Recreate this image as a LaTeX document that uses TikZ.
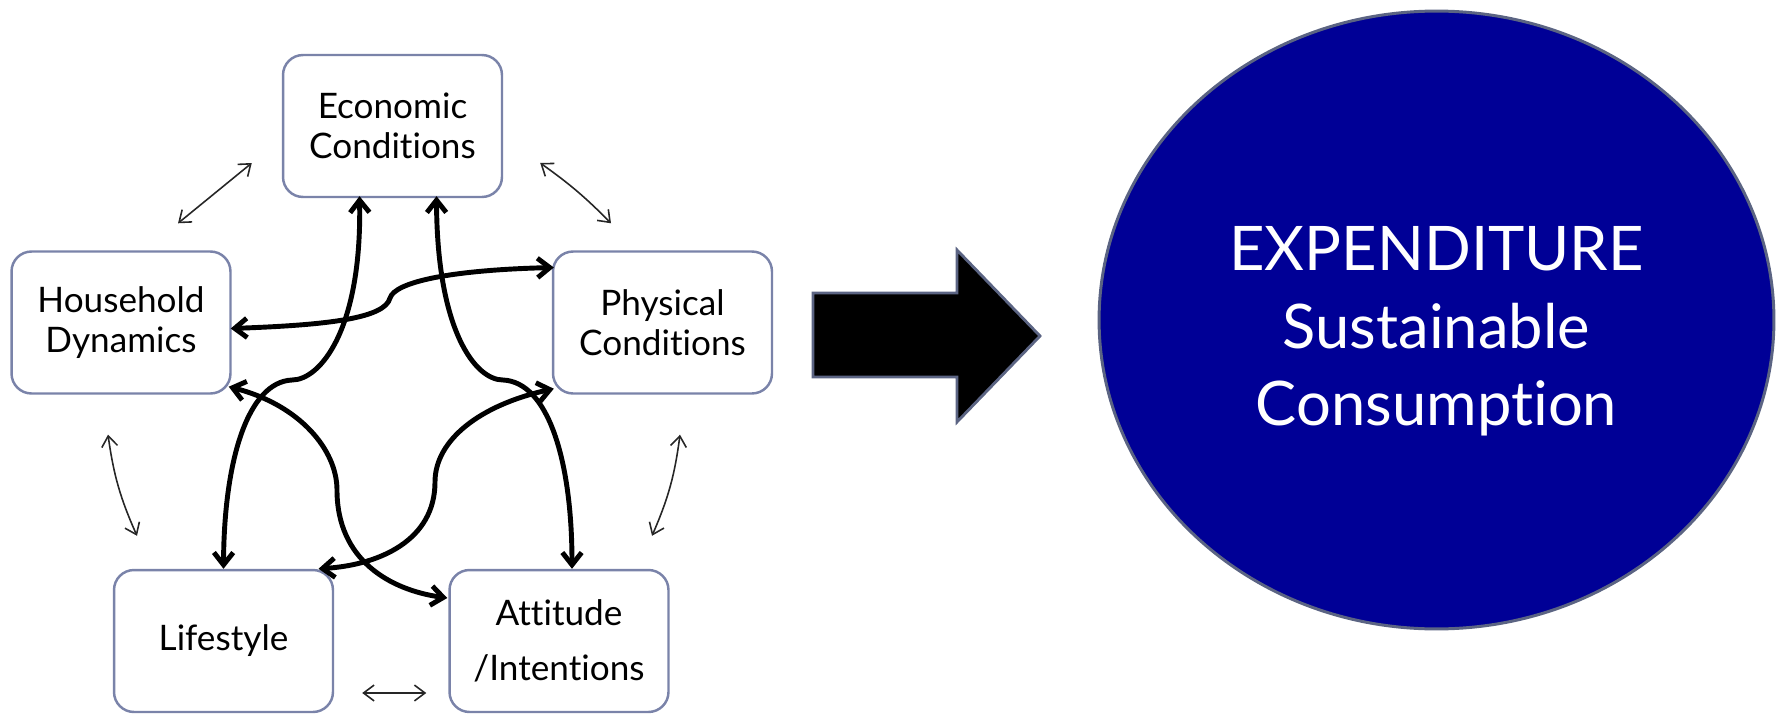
\documentclass[tikz,border=0pt]{standalone}
\usepackage{fontspec}
\setmainfont{Lato}[Ligatures={NoCommon,NoRare,NoContextual}]
\usetikzlibrary{arrows.meta,shapes.geometric,calc}
\definecolor{boxline}{HTML}{7A83A9}
\definecolor{deepblue}{HTML}{000096}
\definecolor{rimgray}{HTML}{5B6483}
\begin{document}
\begin{tikzpicture}[x=0.02cm, y=-0.02cm,
	factor/.style={draw=boxline, line width=1.4pt, rounded corners=0.4cm, minimum width=4.38cm, minimum height=2.84cm, align=center, inner sep=0pt, font=\fontsize{20}{23}\selectfont},
	link/.style={{Straight Barb[length=6pt,width=9pt]}-{Straight Barb[length=6pt,width=9pt]}, line width=0.9pt, black!85},
	tie/.style={{Straight Barb[length=7pt,width=11pt]}-{Straight Barb[length=7pt,width=11pt]}, line width=2.8pt, line join=round}]
	\useasboundingbox (0,0) rectangle (1777,713);
	% the five factors
	\node [factor] (econ) at (392.5,126) {Economic\\Conditions};
	\node [factor] (house) at (121,322.5) {Household\\Dynamics};
	\node [factor] (phys) at (662.5,322.5) {Physical\\Conditions};
	\node [factor] (life) at (223.5,641) {Lifestyle};
	\node [factor] (att) at (559,641) {Attitude\\[3mm]/Intentions};
	% thin links between neighbours
	\draw [link] ($(house.north)+(57,-27)$) -- ($(econ.west)+(-30,37)$);
	\draw [link] ($(econ.east)+(37,37)$) to [bend left=5] ($(phys.north)+(-51.5,-27)$);
	\draw [link] ($(house.south)+(-13,40)$) to [bend right=8] ($(life.north)+(-86.5,-33)$);
	\draw [link] ($(phys.south)+(17.5,40)$) to [bend left=8] ($(att.north)+(93,-33)$);
	\draw [link] ($(life.east)+(28,52)$) -- ($(att.west)+(-22,52)$);
	% thick links across the star
	\draw [tie] ($(econ.south)+(-33,-2)$) .. controls (362,330) and (320,380) .. (292,380) .. controls (248,382) and (224,460) .. (life.north);
	\draw [tie] ($(econ.south)+(44,-2)$) .. controls (437,330) and (475,380) .. (503,380) .. controls (548,382) and (572,460) .. ($(att.north)+(13,0)$);
	\draw [tie] ($(house.east)+(-1,6)$) .. controls (330,325) and (385,318) .. (390,298) .. controls (395,282) and (450,270) .. ($(phys.west)+(2,-55)$);
	\draw [tie] ($(house.south east)+(-3,-8)$) .. controls (300,405) and (337,450) .. (337,490) .. controls (337,560) and (390,590) .. ($(att.west)+(-1,-43)$);
	\draw [tie] ($(phys.south west)+(2,-6)$) .. controls (480,405) and (435,440) .. (435,482) .. controls (435,540) and (380,565) .. ($(life.north)+(95,0)$);
	% block arrow and outcome
	\draw [fill=black, draw=rimgray, line width=1.6pt] (813,293) -- (957,293) -- (957,250) -- (1040,336) -- (957,422) -- (957,377) -- (813,377) -- cycle;
	\node [ellipse, draw=rimgray, line width=1.7pt, fill=deepblue, minimum width=13.5cm, minimum height=12.36cm, inner sep=0pt, text=white, align=center, font=\fontsize{35}{44}\selectfont] (expo) at (1436.5,320) {\rule{0pt}{38pt}EXPENDITURE\\Sustainable\\Consumption};
\end{tikzpicture}
\end{document}
